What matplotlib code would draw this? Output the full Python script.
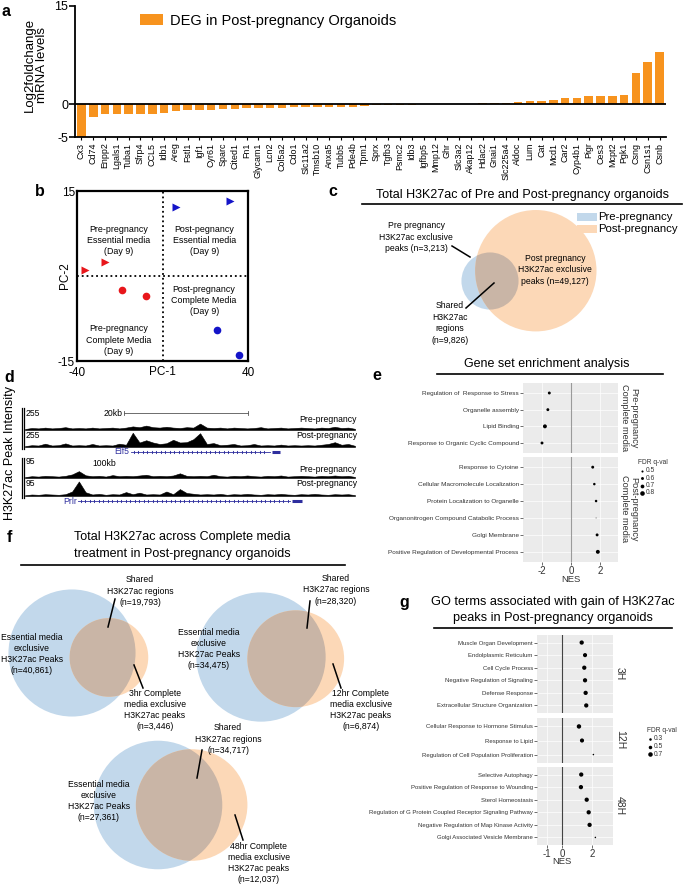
import numpy as np
import matplotlib
matplotlib.use('Agg')
import matplotlib.pyplot as plt
from matplotlib.patches import Circle

plt.rcParams['font.family'] = ['Liberation Sans', 'DejaVu Sans']
plt.rcParams['axes.unicode_minus'] = False

# ---------------- data ----------------
# panel a
deg_genes = ['Cx3', 'Cd74', 'Enpp2', 'Lgals1', 'Tuba1', 'Sfrp4', 'CCL5', 'Idb1', 'Areg', 'Fstl1',
             'Igf1', 'Cyr61', 'Sparc', 'Cited1', 'Fn1', 'Glycam1', 'Lcn2', 'Col5a2', 'Cdo1', 'Slc11a2',
             'Tmsb10', 'Anxa5', 'Tubb5', 'Pde4b', 'Tpm1', 'Sprx', 'Tgfb3', 'Psmc2', 'Idb3', 'Igfbp5',
             'Mmp12', 'Ghr', 'Slc3a2', 'Akap12', 'Hdac2', 'Gnai1', 'Slc225a4', 'Aldoc', 'Lum', 'Cat',
             'Mcd1', 'Car2', 'Cyp4b1', 'Pigr', 'Ces3', 'Mcpt2', 'Pgk1', 'Csng', 'Csn1s1', 'Csnb']
deg_log2fc = [-5.0, -1.9, -1.5, -1.5, -1.5, -1.5, -1.5, -1.3, -1.1, -0.9,
              -0.9, -0.85, -0.7, -0.7, -0.6, -0.6, -0.55, -0.5, -0.45, -0.45,
              -0.45, -0.4, -0.4, -0.35, -0.3, -0.15, -0.1, -0.08, -0.05, -0.03,
              -0.02, -0.01, 0.01, 0.05, 0.15, 0.2, 0.2, 0.3, 0.45, 0.5,
              0.7, 0.9, 1.0, 1.2, 1.3, 1.3, 1.4, 4.7, 6.5, 8.0]

# panel b
pca_pc1 = [-36.4, -26.9, -19.1, -7.6, 6.2, 31.5, 25.4, 35.7]
pca_pc2 = [1.1, 2.4, -2.5, -3.5, 12.1, 13.2, -9.5, -13.9]
pca_stage = ['Pre', 'Pre', 'Pre', 'Pre', 'Post', 'Post', 'Post', 'Post']
pca_media = ['Essential', 'Essential', 'Complete', 'Complete',
             'Essential', 'Essential', 'Complete', 'Complete']

# panel c / f (Venn counts: exclusive A, shared, exclusive B)
venn_c = (3213, 9826, 49127)
venn_3hr = (40861, 19793, 3446)
venn_12hr = (34475, 28320, 6874)
venn_48hr = (27361, 34717, 12037)

# panel d (relative signal along the locus)
elf5_pre = [0.05, 0.1, 0.08, 0.12, 0.08, 0.1, 0.14, 0.08, 0.1, 0.08, 0.12, 0.08, 0.1, 0.12, 0.08,
            0.12, 0.18, 0.14, 0.22, 0.14, 0.12, 0.16, 0.12, 0.1, 0.14, 0.12, 0.32, 0.12, 0.1, 0.12,
            0.08, 0.12, 0.1, 0.08, 0.1, 0.14, 0.08, 0.1, 0.12, 0.08, 0.1, 0.12, 0.1, 0.08, 0.12,
            0.1, 0.16, 0.1, 0.12, 0.06]
elf5_post = [0.06, 0.12, 0.1, 0.22, 0.1, 0.12, 0.24, 0.1, 0.12, 0.1, 0.2, 0.1, 0.12, 0.1, 0.22,
             0.15, 0.95, 0.3, 0.45, 0.3, 0.2, 0.25, 0.48, 0.3, 0.32, 0.52, 0.92, 0.2, 0.26, 0.12,
             0.15, 0.2, 0.1, 0.12, 0.2, 0.1, 0.12, 0.1, 0.16, 0.1, 0.12, 0.1, 0.12, 0.1, 0.15,
             0.2, 0.32, 0.15, 0.2, 0.08]
prlr_pre = [0.05, 0.1, 0.08, 0.12, 0.1, 0.08, 0.12, 0.2, 0.38, 0.15, 0.1, 0.12, 0.08, 0.16, 0.1,
            0.12, 0.1, 0.14, 0.18, 0.1, 0.12, 0.1, 0.14, 0.26, 0.12, 0.1, 0.12, 0.1, 0.18, 0.1,
            0.08, 0.12, 0.1, 0.14, 0.1, 0.08, 0.12, 0.1, 0.14, 0.08, 0.1, 0.12, 0.1, 0.08, 0.12,
            0.1, 0.14, 0.1, 0.12, 0.06]
prlr_post = [0.05, 0.1, 0.08, 0.12, 0.1, 0.08, 0.12, 0.3, 0.97, 0.25, 0.1, 0.14, 0.08, 0.12, 0.1,
             0.26, 0.12, 0.22, 0.1, 0.12, 0.1, 0.3, 0.12, 0.46, 0.2, 0.15, 0.1, 0.12, 0.1, 0.14,
             0.08, 0.12, 0.1, 0.14, 0.1, 0.08, 0.12, 0.1, 0.14, 0.1, 0.08, 0.12, 0.1, 0.14, 0.1,
             0.08, 0.12, 0.1, 0.12, 0.06]
elf5_gene = (0.32, 0.743, 0.749, 0.773)   # start, end, exon start, exon end (fraction of locus)
prlr_gene = (0.16, 0.804, 0.81, 0.84)

# panel e
gsea_pre_terms = ['Regulation of  Response to Stress', 'Organelle assembly', 'Lipid Binding',
                  'Response to Organic Cyclic Compound']
gsea_pre_nes = [-1.5, -1.6, -1.8, -2.0]
gsea_pre_fdr = [0.6, 0.6, 0.72, 0.6]
gsea_post_terms = ['Response to Cytoine', 'Cellular Macromolecule Localization',
                   'Protein Localization to Organelle', 'Organonitrogen Compound Catabolic Process',
                   'Golgi Membrane', 'Positive Regulation of Developmental Process']
gsea_post_nes = [1.47, 1.58, 1.7, 1.7, 1.77, 1.82]
gsea_post_fdr = [0.6, 0.55, 0.55, 0.35, 0.6, 0.72]

# panel g
go_3h_terms = ['Muscle Organ Development', 'Endolplasmic Reticulum', 'Cell Cycle Process',
               'Negative Regulation of Signaling', 'Defense Response',
               'Extracellular Structure Organization']
go_3h_nes = [1.3, 1.52, 1.47, 1.52, 1.56, 1.6]
go_3h_fdr = [0.65, 0.62, 0.65, 0.65, 0.65, 0.65]
go_12h_terms = ['Cellular Response to Hormone Stimulus', 'Response to Lipid',
                'Regulation of Cell Population Proliferation']
go_12h_nes = [1.12, 1.32, 2.07]
go_12h_fdr = [0.68, 0.62, 0.1]
go_48h_terms = ['Selective Autophagy', 'Positive Regulation of Response to Wounding',
                'Sterol Homeostasis', 'Regulation of G Protein Coupled Receptor Signaling Pathway',
                'Negative Regulation of Map Kinase Activity', 'Golgi Associated Vesicle Membrane']
go_48h_nes = [1.27, 1.25, 1.63, 1.76, 1.82, 2.2]
go_48h_fdr = [0.65, 0.65, 0.65, 0.65, 0.65, 0.1]

# ---------------- figure ----------------
W, H = 684, 885
fig = plt.figure(figsize=(W / 100, H / 100), dpi=100)


def px_axes(x0, y0, x1, y1):
    return fig.add_axes([x0 / W, 1 - y1 / H, (x1 - x0) / W, (y1 - y0) / H])


ov = fig.add_axes([0, 0, 1, 1])
ov.set_xlim(0, W)
ov.set_ylim(H, 0)
ov.axis('off')


def T(x, y, s, **kw):
    kw.setdefault('ha', 'center')
    kw.setdefault('va', 'center')
    ov.text(x, y, s, **kw)


for letter, x, y in [('a', 6, 11), ('b', 40, 192), ('c', 333, 192), ('d', 9, 378),
                     ('e', 377, 376), ('f', 9, 537), ('g', 404, 602)]:
    T(x, y, letter, fontsize=11.5, fontweight='bold')

BLUE = '#C2D8EB'
ORANGE = '#FCD8B7'
OVERLAP = '#C9B5A6'
ORANGE_BAR = '#F7931E'

# ---- panel a ----
ax = px_axes(75, 6, 666, 137)
xpos = np.arange(len(deg_genes))
ax.bar(xpos, deg_log2fc, width=0.72, color=ORANGE_BAR, label='DEG in Post-pregnancy Organoids')
ax.axhline(0, color='black', lw=1.3)
ax.set_xlim(-0.55, len(deg_genes) - 0.45)
ax.set_ylim(-5, 15)
ax.set_yticks([-5, 0, 15])
ax.set_xticks(xpos)
ax.set_xticklabels(deg_genes, rotation=90, fontsize=6.4)
ax.tick_params(axis='x', length=2.5, width=0.8, pad=1.5)
ax.tick_params(axis='y', labelsize=9, length=4, width=1.2, pad=1)
for s in ['top', 'right']:
    ax.spines[s].set_visible(False)
for s in ['left', 'bottom']:
    ax.spines[s].set_linewidth(1.3)
ax.set_ylabel('Log2foldchange\nmRNA levels', fontsize=9.5, labelpad=3, linespacing=1.1)
ax.yaxis.set_label_coords(-0.045, 0.55)
leg = ax.legend(loc='upper left', bbox_to_anchor=(0.088, 1.04), frameon=False, fontsize=10.5,
                handlelength=1.6, handleheight=0.8, handletextpad=0.45)

# ---- panel b ----
ax = px_axes(77, 191, 248, 361)
for x, y, st, md in zip(pca_pc1, pca_pc2, pca_stage, pca_media):
    ax.plot(x, y, marker='>' if md == 'Essential' else 'o', ms=5.5, ls='',
            color='#E8161B' if st == 'Pre' else '#1414C8', mec='none')
ax.axvline(0, color='black', ls=':', lw=1.3)
ax.axhline(0, color='black', ls=':', lw=1.3)
ax.set_xlim(-40, 40)
ax.set_ylim(-15, 15)
ax.set_xticks([-40, 40])
ax.set_yticks([-15, 15])
ax.tick_params(axis='y', length=0, labelsize=8.5, pad=1.5)
ax.tick_params(axis='x', length=0, labelsize=8.5, pad=4)
for s in ax.spines.values():
    s.set_linewidth(1.6)
ax.text(0.5, -0.03, 'PC-1', transform=ax.transAxes, ha='center', va='top', fontsize=8.5)
ax.text(-0.035, 0.5, 'PC-2', transform=ax.transAxes, ha='right', va='center', fontsize=8.5,
        rotation=90)
qfs = 6.4
ax.text(-20.5, 6.3, 'Pre-pregnancy\nEssential media\n(Day 9)', ha='center', va='center',
        fontsize=qfs, linespacing=1.3)
ax.text(19.5, 6.2, 'Post-pegnancy\nEssential media\n(Day 9)', ha='center', va='center',
        fontsize=qfs, linespacing=1.3)
ax.text(19.5, -4.3, 'Post-pregnancy\nComplete Media\n(Day 9)', ha='center', va='center',
        fontsize=qfs, linespacing=1.3)
ax.text(-20.5, -11.3, 'Pre-pregnancy\nComplete Media\n(Day 9)', ha='center', va='center',
        fontsize=qfs, linespacing=1.3)


# ---- venn helper ----
def lens_area(r1, r2, d):
    if d >= r1 + r2:
        return 0.0
    if d <= abs(r1 - r2):
        return np.pi * min(r1, r2) ** 2
    a1 = r1 ** 2 * np.arccos((d ** 2 + r1 ** 2 - r2 ** 2) / (2 * d * r1))
    a2 = r2 ** 2 * np.arccos((d ** 2 + r2 ** 2 - r1 ** 2) / (2 * d * r2))
    a3 = 0.5 * np.sqrt((-d + r1 + r2) * (d + r1 - r2) * (d - r1 + r2) * (d + r1 + r2))
    return a1 + a2 - a3


def venn(counts, center, direction, k):
    a_only, shared, b_only = counts
    r1 = k * np.sqrt(a_only + shared)
    r2 = k * np.sqrt(b_only + shared)
    target = np.pi * k ** 2 * shared
    lo, hi = abs(r1 - r2) + 1e-6, r1 + r2
    for _ in range(60):
        mid = 0.5 * (lo + hi)
        if lens_area(r1, r2, mid) > target:
            lo = mid
        else:
            hi = mid
    d = 0.5 * (lo + hi)
    u = np.array(direction, float)
    u /= np.hypot(*u)
    c2 = np.array(center) + d * u
    ca = Circle(center, r1, color=BLUE, lw=0, zorder=1)
    cb = Circle(c2, r2, color=ORANGE, lw=0, zorder=2)
    ov.add_patch(ca)
    ov.add_patch(cb)
    co = Circle(center, r1, color=OVERLAP, lw=0, zorder=3)
    ov.add_patch(co)
    co.set_clip_path(cb)


def pointer(x0, y0, x1, y1):
    ov.plot([x0, x1], [y0, y1], color='black', lw=1.1, zorder=5)


# ---- panel c ----
T(522, 195, 'Total H3K27ac of Pre and Post-pregnancy organoids', fontsize=9)
ov.plot([362, 682], [204, 204], color='black', lw=1.2)
venn(venn_c, (490, 281), (49, -11), 0.25)
ov.add_patch(plt.Rectangle((577, 213), 20, 8, color=BLUE, lw=0))
ov.add_patch(plt.Rectangle((577, 225), 20, 8, color=ORANGE, lw=0))
T(598, 217, 'Pre-pregnancy', ha='left', fontsize=8.2)
T(598, 229, 'Post-pregnancy', ha='left', fontsize=8.2)
vfs = 6.2
T(416, 237, 'Pre pregnancy\nH3K27ac exclusive\npeaks (n=3,213)', fontsize=vfs, linespacing=1.4,
  zorder=6)
pointer(452, 246, 470, 257)
T(555, 270, 'Post pregnancy\nH3K27ac exclusive\npeaks (n=49,127)', fontsize=vfs, linespacing=1.4,
  zorder=6)
T(450, 323, 'Shared\nH3K27ac\nregions\n(n=9,826)', fontsize=vfs, linespacing=1.4, zorder=6)
pointer(466, 308, 494, 283)

# ---- panel d ----
T(10, 453, 'H3K27ac Peak Intensity', rotation=90, fontsize=9)
X0, X1 = 25, 355
tracks = [(elf5_pre, 430, 20, '255', 413, 'Pre-pregnancy', 419),
          (elf5_post, 447, 15, '255', 435, 'Post-pregnancy', 436),
          (prlr_pre, 478, 18, '95', 462, 'Pre-pregnancy', 469),
          (prlr_post, 496, 15, '95', 483, 'Post-pregnancy', 484)]
for vals, base, h, lab, ly, name, ny in tracks:
    xs = np.linspace(X0, X1, len(vals))
    ov.fill_between(xs, base, base - np.array(vals) * h, color='black', lw=0.4)
    T(X0 + 1, ly, lab, ha='left', fontsize=6.2)
    T(X1 + 2, ny, name, ha='right', fontsize=6.2, zorder=6)
for ya, yb in [(408, 449), (458, 498)]:
    ov.plot([21.5, 21.5], [ya, yb], color='black', lw=0.9)
    ov.plot([23.8, 23.8], [ya, yb], color='black', lw=0.9)
T(113, 413, '20kb', fontsize=6.2)
ov.plot([124, 248], [413, 413], color='#555555', lw=0.6)
ov.plot([124, 124], [411, 415], color='#555555', lw=0.6)
ov.plot([248, 248], [411, 415], color='#555555', lw=0.6)
T(104, 464, '100kb', fontsize=6.2)
GENE = '#2E2E9E'
for gene, name, gy in [(elf5_gene, 'Elf5', 452), (prlr_gene, 'Prlr', 501)]:
    g0, g1, e0, e1 = [X0 + v * (X1 - X0) for v in gene]
    ov.plot([g0, g1], [gy, gy], color=GENE, lw=0.6)
    chev = np.arange(g0 + 3, g1 - 2, 4.5)
    ov.scatter(chev, np.full(len(chev), gy), marker=r'$\rangle$', s=4, color=GENE, lw=0.3)
    ov.plot([e0, e1], [gy, gy], color=GENE, lw=2.2, solid_capstyle='butt')
    T(g0 - 1, gy, name, ha='right', fontsize=6.2, color=GENE)


# ---- dot plot facets (e, g) ----
def facet(ax, terms, nes, fdr, xlim, xticks, size_fn, fs, show_x, zero_col):
    n = len(terms)
    y = np.arange(n, 0, -1)
    ax.set_facecolor('#EBEBEB')
    ax.set_xlim(*xlim)
    ax.set_ylim(0.4, n + 0.6)
    for yy in y:
        ax.axhline(yy, color='white', lw=0.5, zorder=0)
    for xt in xticks:
        ax.axvline(xt, color='white', lw=0.5, zorder=0)
    ax.axvline(0, color=zero_col, lw=0.8, zorder=1)
    ax.scatter(nes, y, s=[size_fn(q) ** 2 for q in fdr], color='black', zorder=3, lw=0)
    ax.set_yticks(y)
    ax.set_yticklabels(terms, fontsize=fs, color='#333333')
    ax.tick_params(axis='y', length=2, width=0.5, color='#333333', pad=1)
    ax.set_xticks(xticks)
    if show_x:
        ax.tick_params(axis='x', length=2, width=0.5, color='#333333', labelsize=7, pad=1,
                       labelcolor='#333333')
    else:
        ax.tick_params(axis='x', length=0, labelbottom=False)
    for s in ax.spines.values():
        s.set_visible(False)


def size_e(q):
    return max(0.6, 0.6 + 6.0 * (q - 0.35))


def size_g(q):
    return 1.1 + 3.6 * (q - 0.1)


# ---- panel e ----
T(547, 364, 'Gene set enrichment analysis', fontsize=9)
ov.plot([437, 663], [374, 374], color='black', lw=1.2)
ax = px_axes(523, 383, 618, 453)
facet(ax, gsea_pre_terms, gsea_pre_nes, gsea_pre_fdr, (-3.3, 3.2), [-2, 0, 2], size_e, 4.6,
      False, '#9A9A9A')
ax = px_axes(523, 457, 618, 562)
facet(ax, gsea_post_terms, gsea_post_nes, gsea_post_fdr, (-3.3, 3.2), [-2, 0, 2], size_e, 4.6,
      True, '#9A9A9A')
T(571, 580, 'NES', fontsize=6.8, color='#333333')
T(629, 418, 'Pre-pregnancy\nComplete media', rotation=-90, fontsize=6.6, linespacing=1.0,
  color='#333333')
T(629, 509, 'Post-pregnancy\nComplete media', rotation=-90, fontsize=6.6, linespacing=1.0,
  color='#333333')
T(638, 463, 'FDR q-val', ha='left', fontsize=4.8, color='#333333')
for i, q in enumerate([0.5, 0.6, 0.7, 0.8]):
    ov.scatter([641.5], [470.5 + 7.5 * i], s=size_e(q) ** 2, color='black', lw=0)
    T(646, 470.5 + 7.5 * i, str(q), ha='left', fontsize=4.8, color='#333333')

# ---- panel f ----
T(182, 537, 'Total H3K27ac across Complete media', fontsize=9)
T(182, 554, 'treatment in Post-pregnancy organoids', fontsize=9)
ov.plot([21, 345], [565, 565], color='black', lw=1.2)
venn(venn_3hr, (72, 653), (1, 0.12), 0.258)
venn(venn_12hr, (261, 657), (1, 0.05), 0.258)
venn(venn_48hr, (158, 805), (1, 0.0), 0.258)
ffs = 6.2
T(140, 591, 'Shared\nH3K27ac regions\n(n=19,793)', fontsize=ffs, linespacing=1.3, zorder=6)
pointer(115, 599, 108, 627)
T(32, 654, 'Essential media\nexclusive\nH3K27ac Peaks\n(n=40,861)', fontsize=ffs,
  linespacing=1.3, zorder=6)
T(155, 710, '3hr Complete\nmedia exclusive\nH3K27ac peaks\n(n=3,446)', fontsize=ffs,
  linespacing=1.3, zorder=6)
pointer(134, 665, 143, 688)
T(336, 590, 'Shared\nH3K27ac regions\n(n=28,320)', fontsize=ffs, linespacing=1.3, zorder=6)
pointer(310, 601, 307, 628)
T(209, 649, 'Essential media\nexclusive\nH3K27ac Peaks\n(n=34,475)', fontsize=ffs,
  linespacing=1.3, zorder=6)
T(361, 710, '12hr Complete\nmedia exclusive\nH3K27ac peaks\n(n=6,874)', fontsize=ffs,
  linespacing=1.3, zorder=6)
pointer(333, 664, 341, 688)
T(228, 739, 'Shared\nH3K27ac regions\n(n=34,717)', fontsize=ffs, linespacing=1.3, zorder=6)
pointer(202, 750, 197, 778)
T(99, 801, 'Essential media\nexclusive\nH3K27ac Peaks\n(n=27,361)', fontsize=ffs,
  linespacing=1.3, zorder=6)
T(259, 863, '48hr Complete\nmedia exclusive\nH3K27ac peaks\n(n=12,037)', fontsize=ffs,
  linespacing=1.3, zorder=6)
pointer(235, 815, 243, 840)

# ---- panel g ----
T(553, 602, 'GO terms associated with gain of H3K27ac', fontsize=9.2)
T(553, 618, 'peaks in Post-pregnancy organoids', fontsize=9.2)
ov.plot([434, 672], [628, 628], color='black', lw=1.2)
gx = (-1.64, 3.36)
ax = px_axes(537, 635, 613, 713)
facet(ax, go_3h_terms, go_3h_nes, go_3h_fdr, gx, [-1, 0, 2], size_g, 4.3, False, '#444444')
ax = px_axes(537, 718, 613, 763)
facet(ax, go_12h_terms, go_12h_nes, go_12h_fdr, gx, [-1, 0, 2], size_g, 4.3, False, '#444444')
ax = px_axes(537, 767, 613, 845)
facet(ax, go_48h_terms, go_48h_nes, go_48h_fdr, gx, [-1, 0, 2], size_g, 4.3, True, '#444444')
T(562, 862, 'NES', fontsize=6.8, color='#333333')
for lab, yy in [('3H', 674), ('12H', 740), ('48H', 806)]:
    T(620, yy, lab, rotation=-90, fontsize=7.5, color='#333333')
T(647, 731, 'FDR q-val', ha='left', fontsize=4.8, color='#333333')
for i, q in enumerate([0.3, 0.5, 0.7]):
    ov.scatter([650], [739 + 7.5 * i], s=size_g(q) ** 2, color='black', lw=0)
    T(654, 739 + 7.5 * i, str(q), ha='left', fontsize=4.8, color='#333333')

fig.savefig('out.png', dpi=100)
